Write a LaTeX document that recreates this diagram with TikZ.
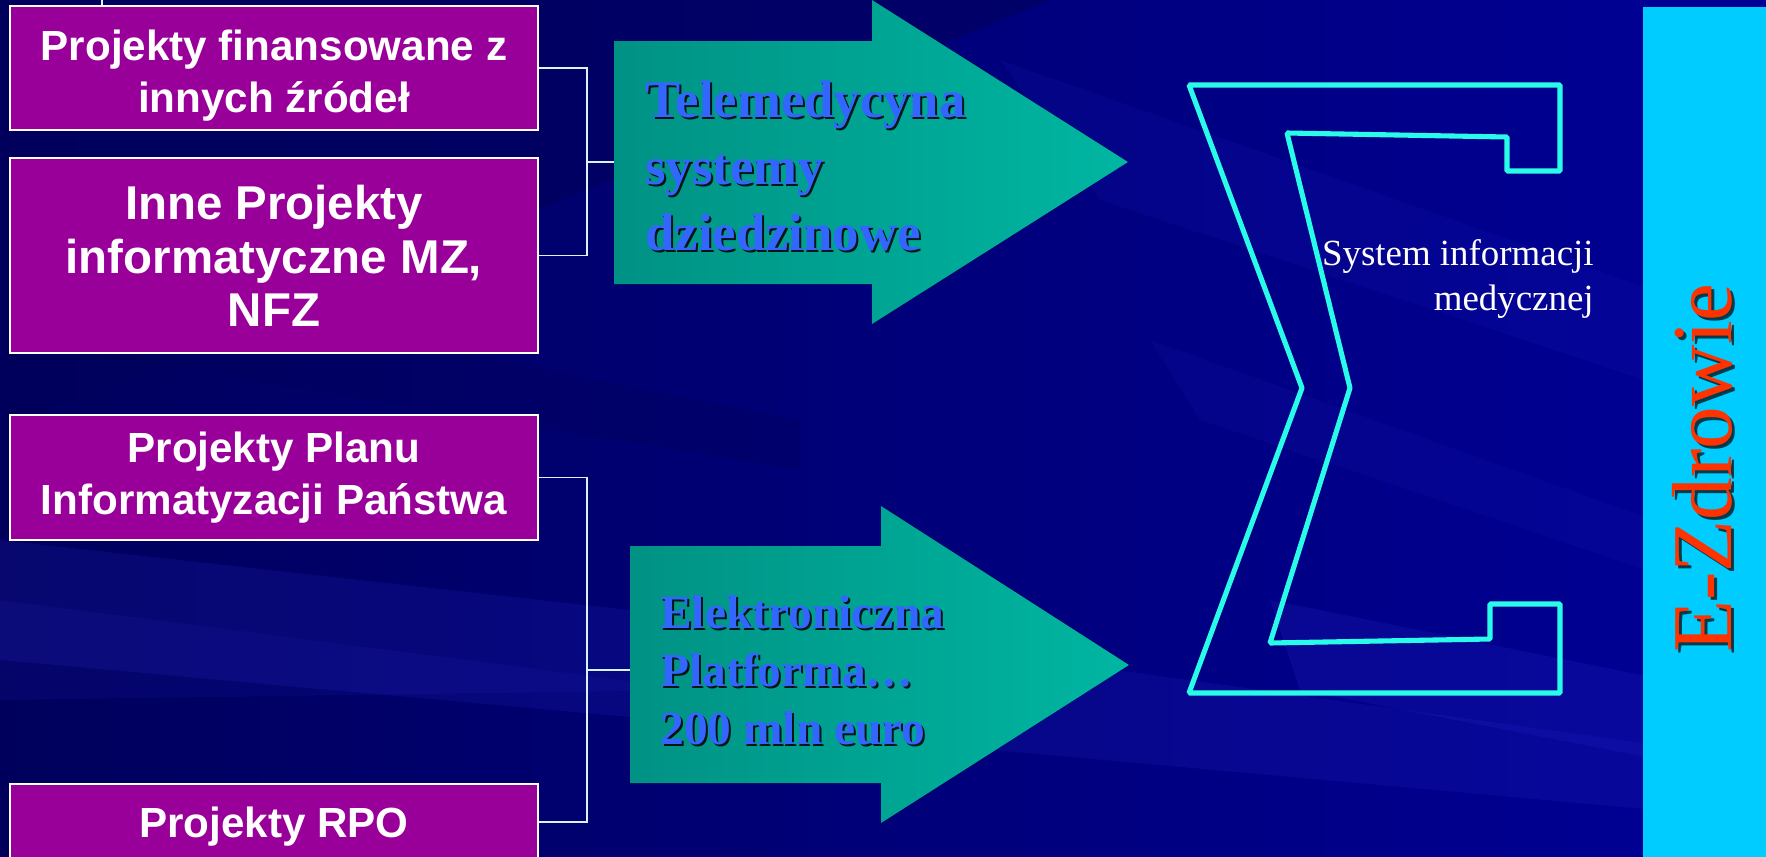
\documentclass[tikz,border=0pt]{standalone}
\usepackage{fontspec}
\setmainfont{Liberation Serif}
\newfontfamily\arialfont{Liberation Sans}

\definecolor{bgdark}{RGB}{0,0,92}
\definecolor{bgright}{RGB}{0,0,150}
\definecolor{streak}{RGB}{40,40,200}
\definecolor{projpurple}{RGB}{153,0,153}
\definecolor{tealL}{RGB}{0,146,132}
\definecolor{tealR}{RGB}{0,182,162}
\definecolor{sigmacyan}{RGB}{42,250,232}
\definecolor{bandcyan}{RGB}{0,204,255}
\definecolor{zdrred}{RGB}{255,51,0}
\definecolor{arrtext}{RGB}{51,102,255}

\tikzset{
  projbox/.style={draw=white, line width=1.1pt, fill=projpurple, minimum width=10.56cm},
  projtext/.style={text=white, align=center},
  link/.style={draw=white!85!cyan, line width=0.8pt},
  arrowlabel/.style={align=left, anchor=west, text=arrtext},
  arrowshade/.style={align=left, anchor=west, text=black, opacity=.85},
}

\begin{document}
\begin{tikzpicture}[x=0.02cm, y=0.02cm]
\tikzset{every node/.append style={inner sep=0pt}}
\useasboundingbox (0,0) rectangle (1766,-856);
\clip (0,0) rectangle (1766,-856);

% background
\fill[left color=bgdark, right color=bgright] (0,0) rectangle (1766,-856);
\fill[bgdark, opacity=.6] (0,0) -- (1050,0) -- (0,-430) -- cycle;
\fill[streak, opacity=.18] (0,-540) -- (900,-640) -- (1766,-760) -- (1766,-820) -- (0,-660) -- cycle;
\fill[streak, opacity=.12] (0,-600) -- (700,-690) -- (0,-700) -- cycle;
\fill[streak, opacity=.12] (1000,-60) -- (1766,-330) -- (1766,-420) -- (1100,-200) -- cycle;
\fill[streak, opacity=.1] (1150,-340) -- (1766,-560) -- (1766,-610) -- (1200,-420) -- cycle;
\fill[streak, opacity=.2] (1270,-600) -- (1766,-700) -- (1766,-780) -- (1300,-690) -- cycle;
\fill[bgdark, opacity=.35] (0,-260) -- (800,-420) -- (800,-470) -- (0,-340) -- cycle;

% right band
\fill[bandcyan] (1643,-7) rectangle (1766,-860);
\node[text=black, opacity=.7, rotate=90, anchor=base, font=\fontsize{48.5}{48}\selectfont] (ezshade) at (1734,-471) {E-Zdrowie};
\node[text=zdrred, rotate=90, anchor=base, font=\fontsize{48.5}{48}\selectfont] (ezdrowie) at (1731,-468) {E-Zdrowie};

% project boxes
\node[projbox, minimum height=2.48cm] (fin) at (274,-68) {};
\node[projbox, minimum height=3.9cm] (inne) at (274,-255.5) {};
\node[projbox, minimum height=2.5cm] (plan) at (274,-477.5) {};
\node[projbox, minimum height=1.52cm] (rpo) at (274,-822) {};
\node[projtext, font=\arialfont\bfseries\fontsize{24}{29.5}\selectfont] (fintext) at (274,-76) {Projekty finansowane z\\innych źródeł};
\node[projtext, font=\arialfont\bfseries\fontsize{27}{30.5}\selectfont] (innetext) at (274,-256) {Inne Projekty\\informatyczne MZ,\\NFZ};
\node[projtext, font=\arialfont\bfseries\fontsize{24}{29.5}\selectfont] (plantext) at (274,-478) {Projekty Planu\\Informatyzacji Państwa};
\node[projtext, font=\arialfont\bfseries\fontsize{24}{30}\selectfont] (rpotext) at (274,-827) {Projekty RPO};

% arrows
\fill[left color=tealL, right color=tealR] (614,-41) -- (872,-41) -- (872,0) -- (1128,-162) -- (872,-324) -- (872,-284) -- (614,-284) -- cycle;
\fill[left color=tealL, right color=tealR] (630,-546) -- (881,-546) -- (881,-506) -- (1129,-665) -- (881,-823) -- (881,-783) -- (630,-783) -- cycle;
\coordinate (teletail) at (614,-162);
\coordinate (platftail) at (630,-670);

\node[arrowshade, font=\bfseries\fontsize{30}{38}\selectfont] (teleshade) at (647,-168) {Telemedycyna\\systemy\\dziedzinowe};
\node[arrowlabel, font=\bfseries\fontsize{30}{38}\selectfont] (teletext) at (645,-166) {Telemedycyna\\systemy\\dziedzinowe};
\node[arrowshade, font=\bfseries\fontsize{27}{33}\selectfont] (platfshade) at (662,-672) {Elektroniczna\\Platforma…\\200 mln euro};
\node[arrowlabel, font=\bfseries\fontsize{27}{33}\selectfont] (platftext) at (660,-670) {Elektroniczna\\Platforma…\\200 mln euro};

% brackets
\coordinate (topcut) at (102,0);
\draw[link] (topcut) -- (topcut |- fin.north);
\draw[link] (fin.east) -- ++(48,0) |- (inne.east);
\draw[link] (586,-162) -- (teletail);
\draw[link] (plan.east) -- ++(48,0) |- (rpo.east);
\draw[link] (586,-670) -- (platftail);

% sigma
\draw[sigmacyan, line width=2.9pt, line join=bevel] (1189,-85) -- (1560,-85) -- (1560,-171) -- (1507,-171) -- (1507,-137) -- (1287,-133) -- (1350,-388) -- (1270,-643) -- (1490,-639) -- (1490,-604) -- (1560,-604) -- (1560,-693) -- (1189,-693) -- (1302,-388) -- cycle;
\node[text=white, align=right, anchor=east, font=\fontsize{21}{25.5}\selectfont] (sysinfo) at (1594,-279) {System informacji\\medycznej};
\end{tikzpicture}
\end{document}
